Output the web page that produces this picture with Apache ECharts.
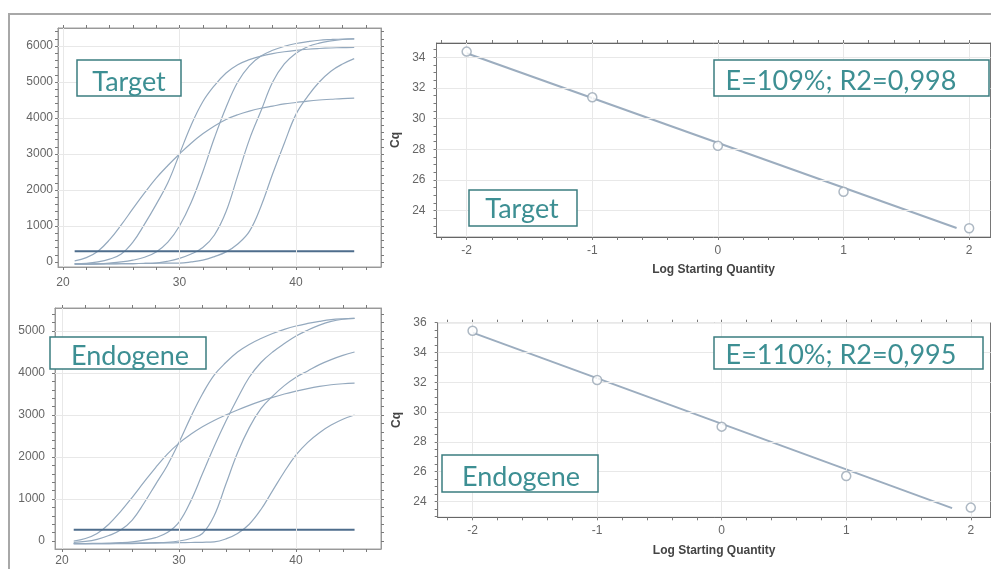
<!DOCTYPE html>
<html>
<head>
<meta charset="utf-8">
<title>qPCR amplification and standard curves</title>
<script src="https://cdn.jsdelivr.net/npm/echarts@6/dist/echarts.min.js"></script>
<style>
  html, body { margin: 0; padding: 0; background: #fff; }
  #chart { width: 991px; height: 569px; }
</style>
</head>
<body>
<div id="chart"></div>
<script>
// amplification curves (RFU per cycle)
const cycles = [21, 22, 23, 24, 25, 26, 27, 28, 29, 30, 31, 32, 33, 34, 35, 36, 37, 38, 39, 40, 41, 42, 43, 44, 45];

const tgtS = [30, 120, 300, 620, 1030, 1480, 1920, 2330, 2680, 3000, 3300, 3560, 3780, 3960, 4090, 4190, 4270, 4330, 4390, 4430, 4470, 4500, 4520, 4540, 4550];
const tgtA = [-50, -40, 0, 80, 220, 550, 1050, 1600, 2200, 3000, 3800, 4450, 4900, 5250, 5480, 5620, 5720, 5790, 5840, 5880, 5910, 5930, 5945, 5955, 5960];
const tgtB = [-60, -60, -50, -30, 0, 50, 130, 280, 550, 1000, 1650, 2500, 3450, 4300, 5000, 5450, 5720, 5880, 5990, 6070, 6120, 6160, 6180, 6195, 6200];
const tgtC = [-60, -60, -60, -55, -50, -45, -40, -30, 20, 100, 220, 400, 750, 1400, 2400, 3400, 4200, 5000, 5500, 5800, 5980, 6080, 6140, 6180, 6200];
const tgtD = [-50, -50, -50, -50, -50, -45, -40, -35, -30, -30, 0, 50, 150, 280, 500, 850, 1550, 2450, 3300, 4100, 4600, 5000, 5300, 5500, 5650];
const tgtThreshold = 300;

const endS = [0, 60, 180, 400, 700, 1040, 1400, 1750, 2070, 2330, 2540, 2720, 2870, 3000, 3120, 3230, 3330, 3420, 3500, 3570, 3630, 3680, 3720, 3745, 3760];
const endA = [-30, -10, 40, 130, 260, 500, 900, 1350, 1800, 2350, 2950, 3500, 3950, 4250, 4500, 4680, 4820, 4940, 5040, 5120, 5180, 5230, 5270, 5290, 5300];
const endB = [-60, -60, -55, -50, -40, -20, 20, 80, 200, 450, 950, 1600, 2250, 2850, 3400, 3900, 4250, 4500, 4700, 4880, 5020, 5140, 5230, 5280, 5300];
const endC = [-60, -60, -60, -60, -55, -50, -45, -40, -30, 0, 60, 180, 600, 1350, 2100, 2700, 3150, 3450, 3700, 3900, 4050, 4200, 4320, 4420, 4500];
const endD = [-60, -60, -60, -60, -60, -60, -55, -50, -45, -40, -35, -30, -20, 50, 180, 400, 750, 1200, 1650, 2050, 2350, 2580, 2760, 2900, 3000];
const endThreshold = 270;

// standard curves
const logQty = [-2, -1, 0, 1, 2];
const tgtCq = [34.37, 31.39, 28.23, 25.23, 22.85];
const endCq = [35.46, 32.15, 29.02, 25.7, 23.58];
const tgtFitX = [-2, 1.9];
const tgtFitY = [34.26, 22.87];
const endFitX = [-2, 1.85];
const endFitY = [35.33, 23.55];

// tick labels
const ampXLabels = [20, 30, 40];
const tgtRfuLabels = [0, 1000, 2000, 3000, 4000, 5000, 6000];
const endRfuLabels = [0, 1000, 2000, 3000, 4000, 5000];
const logLabels = [-2, -1, 0, 1, 2];
const tgtCqLabels = [24, 26, 28, 30, 32, 34];
const endCqLabels = [24, 26, 28, 30, 32, 34, 36];

const range = (a, b, step) => {
  const out = [];
  for (let v = a; v <= b + 1e-9; v += step) out.push(+v.toFixed(2));
  return out;
};

const tealText = '#3d8f93';
const tealBorder = '#3b7d80';
const curveColor = '#94a9be';
const threshColor = '#4e6d8c';
const gridLineColor = '#e8e8e8';
const tickText = { color: '#666', fontSize: 12, fontFamily: 'Liberation Sans, Arial, sans-serif', formatter: v => String(v) };
const nameText = { color: '#444', fontSize: 12, fontWeight: 'bold', fontFamily: 'Liberation Sans, Arial, sans-serif' };

const grids = [
  { left: 58, top: 28, width: 323, height: 239 },
  { left: 436.5, top: 43, width: 554, height: 194 },
  { left: 55, top: 308, width: 326, height: 241 },
  { left: 437.7, top: 322.7, width: 553, height: 194.6 }
].map(g => ({ ...g, show: true, borderColor: '#a0a0a0', borderWidth: 1, outerBoundsMode: 'none' }));

const xAxes = [];
const yAxes = [];

const addX = (gridIndex, min, max, labels, ticks, margin, name, nameGap, lineColor) => {
  const base = {
    type: 'value', gridIndex, min, max,
    axisLine: { show: true, onZero: false, lineStyle: { color: lineColor } },
    axisTick: { show: true, length: 3, customValues: ticks, lineStyle: { color: '#7a7a7a' } },
    splitLine: { show: false }
  };
  xAxes.push({
    ...base, position: 'bottom',
    axisLabel: { customValues: labels, margin, ...tickText },
    name, nameLocation: 'middle', nameGap, nameTextStyle: nameText
  });
  xAxes.push({ ...base, position: 'top', axisLabel: { show: false } });
};

const addY = (gridIndex, min, max, labels, ticks, margin, name, nameGap, lineColor) => {
  const base = {
    type: 'value', gridIndex, min, max,
    axisLine: { show: true, onZero: false, lineStyle: { color: lineColor } },
    axisTick: { show: true, length: 3, customValues: ticks, lineStyle: { color: '#7a7a7a' } },
    splitLine: { show: false }
  };
  yAxes.push({
    ...base, position: 'left',
    axisLabel: { customValues: labels, margin, ...tickText },
    name, nameLocation: 'middle', nameGap, nameTextStyle: nameText
  });
  yAxes.push({ ...base, position: 'right', axisLabel: { show: false } });
};

addX(0, 19.57, 47.3, ampXLabels, range(20, 46, 2), 10, '', 0, '#999');
addY(0, -140, 6500, tgtRfuLabels, range(0, 6400, 200), 5, '', 0, '#999');
addX(1, -2.24, 2.17, logLabels, range(-2.2, 2.1, 0.2), 8, 'Log Starting Quantity', 27, '#666');
addY(1, 22.28, 34.93, tgtCqLabels, range(22.5, 34.5, 0.5), 11, 'Cq', 34, '#777');
addX(2, 19.4, 47.26, ampXLabels, range(20, 46, 2), 6, '', 0, '#999');
addY(2, -190, 5548, endRfuLabels, range(0, 5400, 200), 10, '', 0, '#999');
addX(3, -2.28, 2.16, logLabels, range(-2.2, 2.1, 0.2), 7, 'Log Starting Quantity', 27, '#666');
addY(3, 22.93, 36, endCqLabels, range(23, 36, 0.5), 11, 'Cq', 34, '#777');

const gridLines = (g, xs, ys) => ({
  type: 'line', xAxisIndex: 2 * g, yAxisIndex: 2 * g, data: [], z: 1, silent: true,
  markLine: {
    silent: true, symbol: ['none', 'none'], label: { show: false },
    lineStyle: { color: gridLineColor, width: 1, type: 'solid' },
    emphasis: { disabled: true },
    data: xs.map(v => ({ xAxis: v })).concat(ys.map(v => ({ yAxis: v })))
  }
});

const curve = (g, values) => ({
  type: 'line', xAxisIndex: 2 * g, yAxisIndex: 2 * g, smooth: 0.4, showSymbol: false, z: 3,
  lineStyle: { color: curveColor, width: 1.2 },
  data: cycles.map((c, i) => [c, values[i]])
});

const threshold = (g, value) => ({
  type: 'line', xAxisIndex: 2 * g, yAxisIndex: 2 * g, showSymbol: false, z: 4,
  lineStyle: { color: threshColor, width: 2 },
  data: [[cycles[0], value], [cycles[cycles.length - 1], value]]
});

const points = (g, ys) => ({
  type: 'scatter', xAxisIndex: 2 * g, yAxisIndex: 2 * g, symbol: 'circle', symbolSize: 9, z: 5,
  itemStyle: { color: '#fff', borderColor: '#98a6b4', borderWidth: 1.5 },
  data: logQty.map((x, i) => [x, ys[i]])
});

const fit = (g, xs, ys) => ({
  type: 'line', xAxisIndex: 2 * g, yAxisIndex: 2 * g, showSymbol: false, z: 4,
  lineStyle: { color: '#9cadbf', width: 2 },
  data: xs.map((x, i) => [x, ys[i]])
});

const series = [
  gridLines(0, ampXLabels, tgtRfuLabels.slice(1)),
  curve(0, tgtS), curve(0, tgtA), curve(0, tgtB), curve(0, tgtC), curve(0, tgtD),
  threshold(0, tgtThreshold),
  gridLines(1, logLabels, tgtCqLabels),
  fit(1, tgtFitX, tgtFitY), points(1, tgtCq),
  gridLines(2, ampXLabels, endRfuLabels.slice(1)),
  curve(2, endS), curve(2, endA), curve(2, endB), curve(2, endC), curve(2, endD),
  threshold(2, endThreshold),
  gridLines(3, logLabels, endCqLabels),
  fit(3, endFitX, endFitY), points(3, endCq)
];

const box = (x, y, w, h, label, cx, cy) => ({
  type: 'group', z: 100,
  children: [
    { type: 'rect', z: 100, shape: { x, y, width: w, height: h },
      style: { fill: '#fff', stroke: tealBorder, lineWidth: 1.5 } },
    { type: 'text', z: 101, x: cx, y: cy,
      style: { text: label, fill: tealText, font: '27px Lato, "Open Sans", sans-serif', align: 'center', verticalAlign: 'middle' } }
  ]
});

const graphic = [
  { type: 'line', z: 100, shape: { x1: 8, y1: 14, x2: 991, y2: 14 }, style: { stroke: '#a8a8a8', lineWidth: 2 } },
  { type: 'line', z: 100, shape: { x1: 9, y1: 14, x2: 9, y2: 569 }, style: { stroke: '#a8a8a8', lineWidth: 2 } },
  box(77, 60, 104, 36, 'Target', 129, 82),
  box(714, 60, 275, 36, 'E=109%; R2=0,998', 841, 81),
  box(469, 190, 108, 36, 'Target', 522, 209),
  box(50, 337, 156, 32, 'Endogene', 130, 356),
  box(714, 337, 269, 32, 'E=110%; R2=0,995', 841, 355),
  box(442, 455, 156, 37, 'Endogene', 521, 477)
];

const chart = echarts.init(document.getElementById('chart'));
chart.setOption({
  backgroundColor: '#fff',
  animation: false,
  grid: grids,
  xAxis: xAxes,
  yAxis: yAxes,
  series,
  graphic
});
</script>
</body>
</html>
